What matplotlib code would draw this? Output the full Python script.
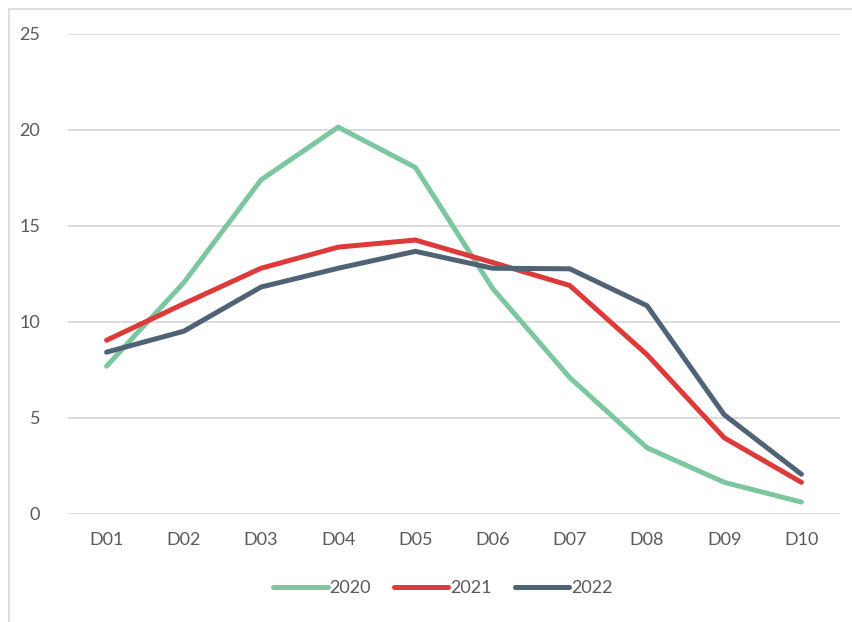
import matplotlib.pyplot as plt
from matplotlib.patches import Rectangle

# Datos
categorias = ['D01', 'D02', 'D03', 'D04', 'D05', 'D06', 'D07', 'D08', 'D09', 'D10']
serie_2020 = [7.7, 12.05, 17.4, 20.15, 18.05, 11.75, 7.1, 3.45, 1.65, 0.62]
serie_2021 = [9.05, 10.95, 12.8, 13.9, 14.27, 13.1, 11.9, 8.3, 3.97, 1.65]
serie_2022 = [8.43, 9.52, 11.82, 12.8, 13.68, 12.8, 12.77, 10.85, 5.17, 2.07]

colores = {'2020': '#7DC7A0', '2021': '#DE3A3A', '2022': '#4F6276'}
texto = '#595959'

plt.rcParams['font.family'] = ['Lato', 'DejaVu Sans']

fig = plt.figure(figsize=(8.52, 6.22), dpi=100)
fig.patches.append(Rectangle((9 / 852, -0.1), 1.2, 1 - 9 / 622 + 0.1,
                             transform=fig.transFigure, fill=False,
                             edgecolor='#D9D9D9', linewidth=1.2))
ax = fig.add_axes([68 / 852, 1 - 514 / 622, (840 - 68) / 852, (514 - 34) / 622])

x = range(len(categorias))
for nombre, valores in [('2020', serie_2020), ('2021', serie_2021), ('2022', serie_2022)]:
    ax.plot(x, valores, color=colores[nombre], linewidth=3.6, label=nombre,
            solid_joinstyle='round', solid_capstyle='round')

ax.set_xlim(-0.5, len(categorias) - 0.5)
ax.set_ylim(0, 25)
ax.set_yticks([0, 5, 10, 15, 20, 25])
ax.set_xticks(list(x))
ax.set_xticklabels(categorias)
ax.grid(axis='y', color='#D9D9D9', linewidth=1.3)
ax.set_axisbelow(True)
for s in ax.spines.values():
    s.set_visible(False)
ax.tick_params(axis='both', length=0, colors=texto, labelsize=13)
ax.tick_params(axis='x', pad=13)
ax.tick_params(axis='y', pad=20)

fig.legend(loc='center', bbox_to_anchor=(0.52, 1 - 588 / 622), ncol=3, frameon=False,
           fontsize=13, labelcolor=texto, handlelength=3.0, handletextpad=0.1,
           columnspacing=1.3)

plt.savefig('out.png', dpi=100)
